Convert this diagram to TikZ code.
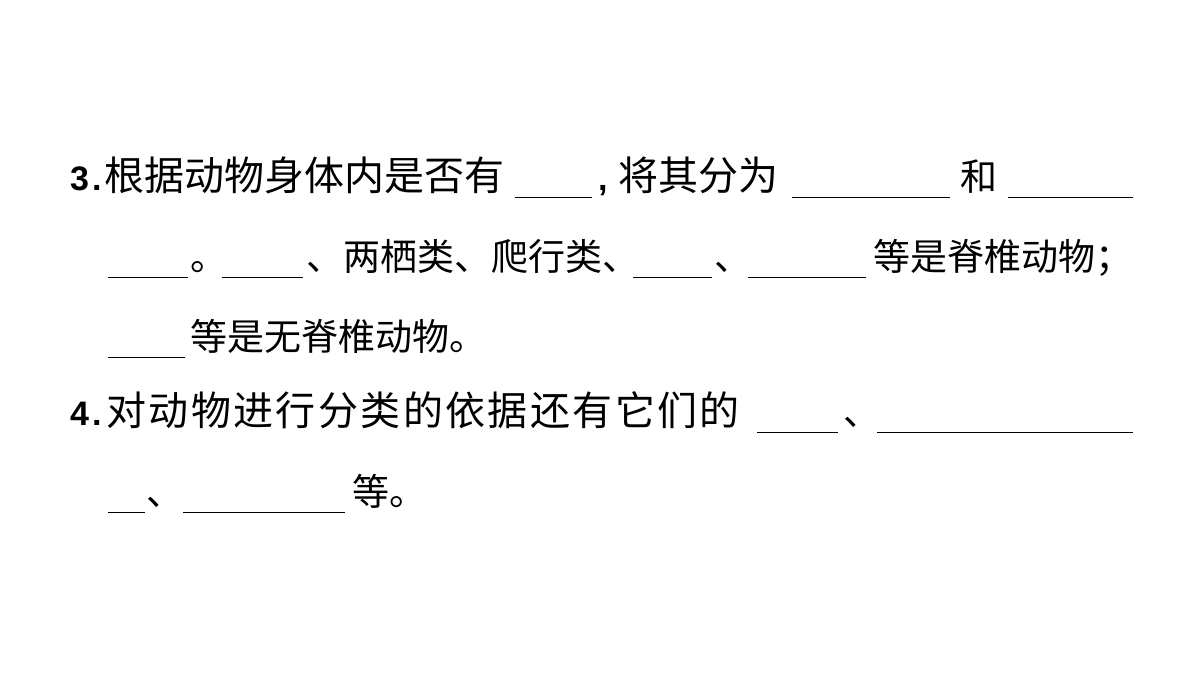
\documentclass[tikz,border=0pt]{standalone}
\usepackage{fontspec}
\setmainfont{Liberation Sans}
\newfontfamily\cjk{Noto Sans CJK SC}
\newfontfamily\cjkb[LetterSpace=6]{Noto Sans CJK SC}
\begin{document}
\begin{tikzpicture}[x=1pt,y=-1pt,
  t/.style={anchor=base west,inner sep=0pt,font=\cjk\fontsize{37}{40}\selectfont},
  ta/.style={t,font=\cjk\fontsize{40}{40}\selectfont},
  tb/.style={t,font=\cjkb\fontsize{40}{40}\selectfont},
  n/.style={anchor=base west,inner sep=0pt,font=\bfseries\fontsize{34}{40}\selectfont},
  bl/.style={line width=1pt}]
\useasboundingbox (0,0) rectangle (1200,675);
% line 1
\node[n] (n3) at (70,190) {3};
\node[n] (d3) at (92,190) {.};
\node[ta] (a1) at (104,190) {根据动物身体内是否有};
\draw[bl] (515,197) coordinate (b1s) -- (592,197) coordinate (b1e);
\node[n] (c1) at (598,190) {,};
\node[ta] (a2) at (618,190) {将其分为};
\draw[bl] (792,197) -- (950,197);
\node[t] (a3) at (960,190) {和};
\draw[bl] (1008,197) -- (1133,197);
% line 2
\draw[bl] (108,277) -- (188,277);
\node[t] (a4) at (190,270) {。};
\draw[bl] (222,277) -- (303,277);
\node[t] (a5) at (306,270) {、两栖类、爬行类、};
\draw[bl] (633,277) -- (712,277);
\node[t] (a6) at (714,270) {、};
\draw[bl] (748,277) -- (866,277);
\node[t] (a7) at (873,270) {等是脊椎动物；};
% line 3
\draw[bl] (108,357) -- (185,357);
\node[t] (a8) at (190,350) {等是无脊椎动物。};
% line 4
\node[n] (n4) at (70,425) {4};
\node[n] (d4) at (92,425) {.};
\node[tb] (a9) at (106,425) {对动物进行分类的依据还有它们的};
\draw[bl] (757,432) -- (838,432);
\node[t] (a10) at (843,425) {、};
\draw[bl] (877,432) -- (1133,432);
% line 5
\draw[bl] (108,512) -- (145,512);
\node[t] (a11) at (146,505) {、};
\draw[bl] (183,512) -- (345,512);
\node[t] (a12) at (352,505) {等。};
\end{tikzpicture}
\end{document}
